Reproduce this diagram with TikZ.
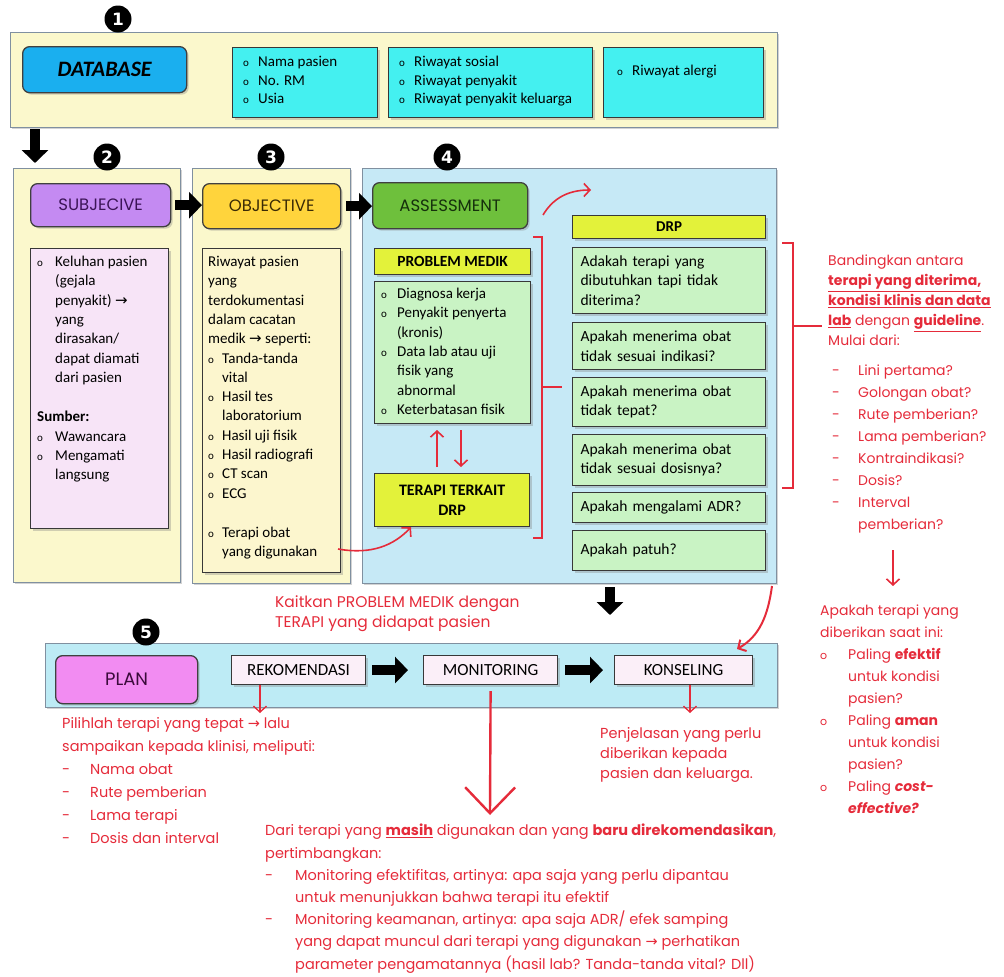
\documentclass[tikz,border=0pt]{standalone}
\usepackage{fontspec}
\setmainfont{Carlito}
\newfontfamily\hand{Poppins}
\newfontfamily\sym{DejaVu Sans}
\usetikzlibrary{arrows.meta,shadows,calc}
\definecolor{dbyel}{HTML}{FBF8CC}
\definecolor{dbblue}{HTML}{1AAFEF}
\definecolor{cyanbox}{HTML}{44F0F0}
\definecolor{subjpur}{HTML}{C48AF2}
\definecolor{subjin}{HTML}{F7E4F7}
\definecolor{objor}{HTML}{FFD43C}
\definecolor{objin}{HTML}{FCF6CE}
\definecolor{assblue}{HTML}{C6E9F6}
\definecolor{assgreen}{HTML}{6EC03C}
\definecolor{lime}{HTML}{E3F23A}
\definecolor{lgreen}{HTML}{C9F3C4}
\definecolor{planblue}{HTML}{BDEBF5}
\definecolor{planpink}{HTML}{F28CF2}
\definecolor{planbox}{HTML}{FBEFF8}
\definecolor{annred}{HTML}{E52B3A}
\definecolor{panelgray}{HTML}{8090A0}
\definecolor{subjtxt}{HTML}{3B1456}
\definecolor{objtxt}{HTML}{3A2A05}
\definecolor{asstxt}{HTML}{15300C}
\definecolor{plantxt}{HTML}{3A0A3A}
\newcommand\bo[1]{\makebox[#1][l]{\fontsize{11}{11}\selectfont o}}
\newcommand\ind[1]{\hspace*{#1}}
\newcommand\da[1]{\makebox[#1][l]{-}}
\newcommand\ra{{\sym →}}
\begin{document}
\begin{tikzpicture}[x=1pt,y=-1pt,
 shad/.style={drop shadow={shadow xshift=2pt,shadow yshift=-2pt,opacity=0.35}},
 panel/.style={draw=panelgray,line width=0.9pt,inner sep=0pt,anchor=north west,shad},
 btn/.style={draw=black!75,line width=1.3pt,rounded corners=7pt,inner sep=0pt,anchor=north west,shad,font=\hand\fontsize{16.5}{19}\selectfont},
 ibox/.style={draw=black!78,line width=1.2pt,inner sep=0pt,anchor=north west,shad},
 txt/.style={anchor=north west,inner sep=0pt,align=left,font=\fontsize{15}{19.3}\selectfont},
 rtxt/.style={anchor=north west,inner sep=0pt,align=left,text=annred,font=\hand\fontsize{14}{20}\selectfont},
 num/.style={circle,fill=black,text=white,inner sep=0pt,minimum size=27pt,font=\sym\bfseries\fontsize{17}{17}\selectfont},
 blk/.style={line width=10pt,-{Triangle[length=13pt,width=26pt]}},
 rline/.style={draw=annred,line width=1.6pt},
 rarrow/.style={rline,-{Straight Barb[length=6pt,width=13pt]}},
]
\useasboundingbox (0,0) rectangle (1004,977);

% ---------- 1 DATABASE ----------
\node[panel,fill=dbyel,minimum width=767pt,minimum height=95pt] (p1) at (10,32) {};
\node[num] (n1) at (118,19) {1};
\node[btn,fill=dbblue,minimum width=164pt,minimum height=46pt,font=\bfseries\itshape\fontsize{22}{24}\selectfont] (db) at (22,46) {DATABASE};
\node[ibox,fill=cyanbox,minimum width=145pt,minimum height=70pt] (dbA) at (232,47) {};
\node[txt,font=\fontsize{15}{18.5}\selectfont] (dbAt) at (243,56) {\bo{15pt}Nama pasien\\ \bo{15pt}No. RM\\ \bo{15pt}Usia};
\node[ibox,fill=cyanbox,minimum width=204pt,minimum height=70pt] (dbB) at (388,47) {};
\node[txt,font=\fontsize{15}{18.5}\selectfont] (dbBt) at (399,56) {\bo{15pt}Riwayat sosial\\ \bo{15pt}Riwayat penyakit\\ \bo{15pt}Riwayat penyakit keluarga};
\node[ibox,fill=cyanbox,minimum width=160pt,minimum height=70pt] (dbC) at (603,47) {};
\node[txt,font=\fontsize{15}{18.5}\selectfont] (dbCt) at (617,65) {\bo{15pt}Riwayat alergi};

% ---------- 2 SUBJECTIVE ----------
\node[panel,fill=dbyel,minimum width=167pt,minimum height=414pt] (p2) at (13,168) {};
\node[num] (n2) at (107,157) {2};
\node[btn,fill=subjpur,minimum width=140pt,minimum height=43pt,text=subjtxt] (subj) at (30,183) {SUBJECIVE};
\node[ibox,fill=subjin,minimum width=138pt,minimum height=280pt] (subjbox) at (30,248) {};
\node[txt] (subjt) at (37,256) {\bo{18pt}Keluhan pasien\\ \ind{18pt}(gejala\\ \ind{18pt}penyakit) \ra\\ \ind{18pt}yang\\ \ind{18pt}dirasakan/\\ \ind{18pt}dapat diamati\\ \ind{18pt}dari pasien\\[20pt] \textbf{Sumber:}\\ \bo{18pt}Wawancara\\ \bo{18pt}Mengamati\\ \ind{18pt}langsung};

% ---------- 3 OBJECTIVE ----------
\node[panel,fill=dbyel,minimum width=158pt,minimum height=415pt] (p3) at (192,168) {};
\node[num] (n3) at (271,157) {3};
\node[btn,fill=objor,minimum width=138pt,minimum height=45pt,text=objtxt] (obj) at (202,183) {OBJECTIVE};
\node[ibox,fill=objin,minimum width=138pt,minimum height=324pt] (objbox) at (202,248) {};
\node[txt] (objt) at (208,256) {Riwayat pasien\\yang\\terdokumentasi\\dalam cacatan\\medik \ra\ seperti:\\ \bo{14pt}Tanda-tanda\\ \ind{14pt}vital\\ \bo{14pt}Hasil tes\\ \ind{14pt}laboratorium\\ \bo{14pt}Hasil uji fisik\\ \bo{14pt}Hasil radiografi\\ \bo{14pt}CT scan\\ \bo{14pt}ECG\\[20pt] \bo{14pt}Terapi obat\\ \ind{14pt}yang digunakan};

% ---------- 4 ASSESSMENT ----------
\node[panel,fill=assblue,minimum width=414pt,minimum height=415pt] (p4) at (362,168) {};
\node[num] (n4) at (447,157) {4};
\node[btn,fill=assgreen,minimum width=155pt,minimum height=46pt,text=asstxt] (ass) at (372,182) {ASSESSMENT};
\node[ibox,fill=lime,minimum width=156pt,minimum height=26pt,font=\bfseries\fontsize{15.5}{17}\selectfont] (pmh) at (374,248) {PROBLEM MEDIK};
\node[ibox,fill=lgreen,minimum width=156pt,minimum height=142pt] (pml) at (374,281) {};
\node[txt] (pmlt) at (381,288) {\bo{16pt}Diagnosa kerja\\ \bo{16pt}Penyakit penyerta\\ \ind{16pt}(kronis)\\ \bo{16pt}Data lab atau uji\\ \ind{16pt}fisik yang\\ \ind{16pt}abnormal\\ \bo{16pt}Keterbatasan fisik};
\node[ibox,fill=lime,minimum width=155pt,minimum height=53pt,align=center,font=\bfseries\fontsize{16}{20}\selectfont] (ter) at (374,473) {TERAPI TERKAIT\\DRP};

\node[ibox,fill=lime,minimum width=193pt,minimum height=23pt,font=\bfseries\fontsize{15}{17}\selectfont] (drph) at (572,215) {DRP};
\tikzset{qbox/.style={ibox,fill=lgreen,text width=177pt,inner xsep=8pt,align=left,font=\fontsize{15.5}{19.5}\selectfont}}
\node[qbox,minimum height=66pt] (q1) at (572,247) {Adakah terapi yang\\dibutuhkan tapi tidak\\diterima?};
\node[qbox,minimum height=47pt] (q2) at (572,322) {Apakah menerima obat\\tidak sesuai indikasi?};
\node[qbox,minimum height=49pt] (q3) at (572,377) {Apakah menerima obat\\tidak tepat?};
\node[qbox,minimum height=51pt] (q4) at (572,434) {Apakah menerima obat\\tidak sesuai dosisnya?};
\node[qbox,minimum height=30pt] (q5) at (572,492) {Apakah mengalami ADR?};
\node[qbox,minimum height=40pt] (q6) at (572,530) {Apakah patuh?};

% ---------- 5 PLAN ----------
\node[panel,fill=planblue,minimum width=732pt,minimum height=64pt] (p5) at (45,643) {};
\node[num] (n5) at (146,632) {5};
\node[btn,fill=planpink,minimum width=142pt,minimum height=48pt,text=plantxt,font=\hand\fontsize{18}{20}\selectfont] (plan) at (55,655) {PLAN};
\tikzset{pbox/.style={ibox,fill=planbox,minimum height=29pt,font=\fontsize{17}{19}\selectfont}}
\node[pbox,minimum width=134pt] (rek) at (231,655) {REKOMENDASI};
\node[pbox,minimum width=134pt] (mon) at (423,655) {MONITORING};
\node[pbox,minimum width=138pt] (kon) at (614,655) {KONSELING};

% ---------- black arrows ----------
\coordinate (a1s) at (35,129);
\coordinate (a1e) at (35,163);
\draw[blk] (a1s) -- (a1e);
\draw[blk,shorten <=4pt] (subj.east) -- (subj.east -| obj.west);
\draw[blk,shorten <=5pt] (obj.east) -- (obj.east -| ass.west);
\coordinate (a4s) at (610,587);
\coordinate (a4e) at (610,615);
\draw[blk] (a4s) -- (a4e);
\draw[blk,shorten <=6pt,shorten >=15pt] (rek.east) -- (mon.west);
\draw[blk,shorten <=7pt,shorten >=11pt] (mon.east) -- (kon.west);

% ---------- red connectors ----------
\coordinate (upS) at (437,467);
\coordinate (upE) at (437,430);
\coordinate (dnS) at (461,430);
\coordinate (dnE) at (461,467);
\draw[rarrow] (upS) -- (upE);
\draw[rarrow] (dnS) -- (dnE);
\coordinate (tdg) at (338,549);
\draw[rarrow] (tdg) .. controls (372,555) and (394,545) .. (ter.south west -| 411,0) ;
% left bracket
\coordinate (lbA) at (533,237);
\coordinate (lbB) at (533,538);
\coordinate (lbT) at (542,387);
\draw[rline,line width=1.3pt] (lbA) -- (542,237) -- (542,538) -- (lbB);
\draw[rline,line width=1.3pt] (lbT) -- ++(20,0);
\coordinate (tcs) at (543,215);
\coordinate (tce) at (591,190);
\draw[rarrow] (tcs) .. controls (552,200) and (566,190) .. (tce);
% right bracket
\coordinate (rbA) at (782,243);
\coordinate (rbB) at (782,488);
\coordinate (rbT) at (793,326);
\draw[rline,line width=1.3pt] (rbA) -- (793,243) -- (793,488) -- (rbB);
\draw[rline,line width=1.3pt] (rbT) -- ++(29,0);
\coordinate (rds) at (893,550);
\coordinate (rde) at (893,586);
\draw[rarrow] (rds) -- (rde);
\coordinate (rcs) at (772,586);
\coordinate (rce) at (737,649);
\draw[rarrow,line width=2pt] (rcs) .. controls (768,615) and (760,636) .. (rce);
% plan arrows
\coordinate (rkE) at (260,713);
\draw[rarrow,line width=1.3pt] (rek.south -| rkE) -- (rkE);
\coordinate (mnE) at (490,815);
\draw[rline,line width=2.4pt,-{Straight Barb[length=26pt,width=50pt]}] ([yshift=-6pt]mon.south) -- (mnE);
\coordinate (knE) at (690,713);
\draw[rarrow,line width=1.3pt] (kon.south -| knE) -- (knE);

% ---------- red annotations ----------
\node[rtxt] (tBand) at (828,255) {Bandingkan antara\\ \underline{\textbf{terapi yang diterima,}}\\ \underline{\textbf{kondisi klinis dan data}}\\ \underline{\textbf{lab}} dengan \underline{\textbf{guideline}}.\\ Mulai dari:};
\node[rtxt,font=\hand\fontsize{14}{22}\selectfont] (tList) at (832,365) {\da{26pt}Lini pertama?\\ \da{26pt}Golongan obat?\\ \da{26pt}Rute pemberian?\\ \da{26pt}Lama pemberian?\\ \da{26pt}Kontraindikasi?\\ \da{26pt}Dosis?\\ \da{26pt}Interval\\ \ind{26pt}pemberian?};
\node[rtxt,font=\hand\fontsize{14}{22}\selectfont] (tApa) at (820,605) {Apakah terapi yang\\ diberikan saat ini:\\ \bo{28pt}Paling \textbf{efektif}\\ \ind{28pt}untuk kondisi\\ \ind{28pt}pasien?\\ \bo{28pt}Paling \textbf{aman}\\ \ind{28pt}untuk kondisi\\ \ind{28pt}pasien?\\ \bo{28pt}Paling \textbf{\textit{cost-}}\\ \ind{28pt}\textbf{\textit{effective?}}};
\node[rtxt,font=\hand\fontsize{15.5}{20}\selectfont] (tKait) at (275,595) {Kaitkan PROBLEM MEDIK dengan\\ TERAPI yang didapat pasien};
\node[rtxt,font=\hand\fontsize{14.5}{23}\selectfont] (tPil) at (62,717) {Pilihlah terapi yang tepat \ra\ lalu\\ sampaikan kepada klinisi, meliputi:\\ \da{28pt}Nama obat\\ \da{28pt}Rute pemberian\\ \da{28pt}Lama terapi\\ \da{28pt}Dosis dan interval};
\node[rtxt,font=\hand\fontsize{14.5}{20}\selectfont] (tPen) at (600,727) {Penjelasan yang perlu\\ diberikan kepada\\ pasien dan keluarga.};
\node[rtxt,font=\hand\fontsize{14.5}{22.2}\selectfont] (tDari) at (265,824) {Dari terapi yang \underline{\textbf{masih}} digunakan dan yang \textbf{baru direkomendasikan},\\ pertimbangkan:\\ \da{30pt}Monitoring efektifitas, artinya: apa saja yang perlu dipantau\\ \ind{30pt}untuk menunjukkan bahwa terapi itu efektif\\ \da{30pt}Monitoring keamanan, artinya: apa saja ADR/ efek samping\\ \ind{30pt}yang dapat muncul dari terapi yang digunakan \ra\ perhatikan\\ \ind{30pt}parameter pengamatannya (hasil lab? Tanda-tanda vital? Dll)};
\end{tikzpicture}
\end{document}
